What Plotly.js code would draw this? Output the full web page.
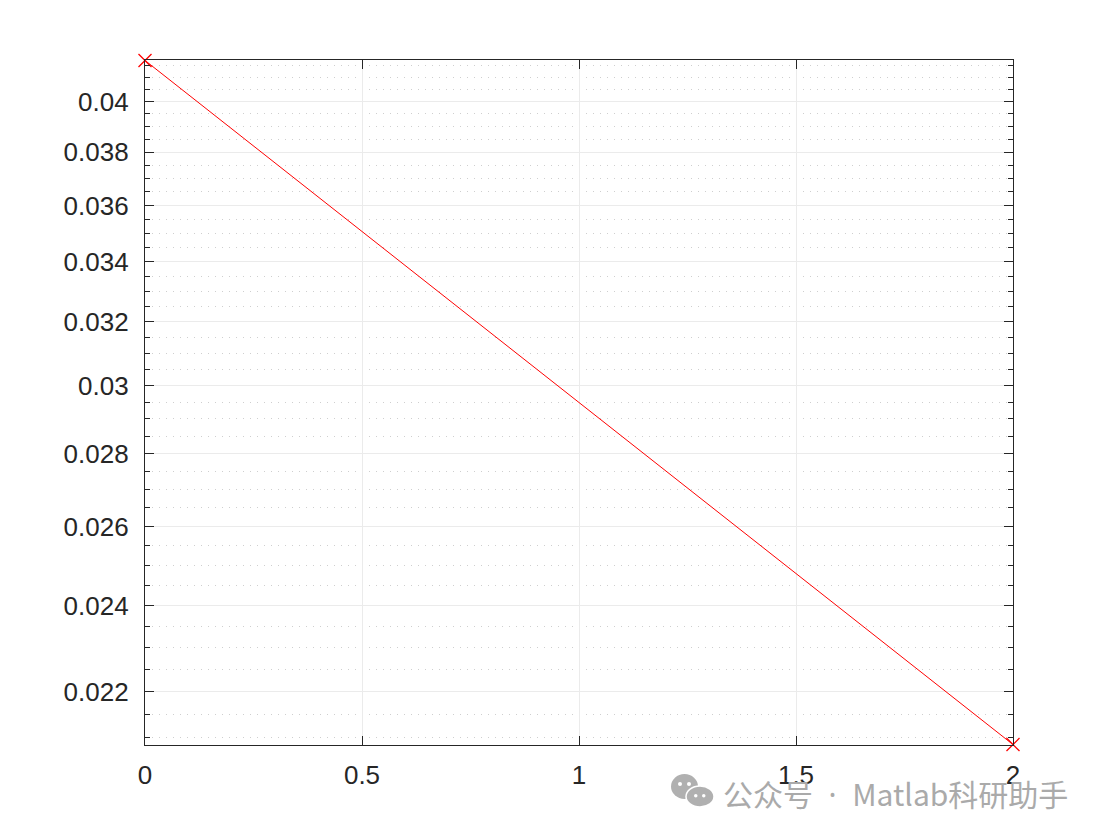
<!DOCTYPE html>
<html>
<head>
<meta charset="utf-8">
<script src="https://cdn.plot.ly/plotly-3.0.1.min.js"></script>
<style>html,body{margin:0;padding:0;background:#fff;}#chart{width:1111px;height:835px;}</style>
</head>
<body>
<div id="chart"></div>
<script>
// Data
const xValues = [0, 2];
const yValues = [0.0417, 0.02085];

// Ticks
const xTickVals = [0, 0.5, 1, 1.5, 2];
const xTickText = ['0', '0.5', '1', '1.5', '2'];
const yTickVals = [0.022, 0.024, 0.026, 0.028, 0.03, 0.032, 0.034, 0.036, 0.038, 0.04];
const yTickText = ['0.022', '0.024', '0.026', '0.028', '0.03', '0.032', '0.034', '0.036', '0.038', '0.04'];

// minor ticks every 0.0005 (not at major positions)
const yMinorVals = [];
for (let k = 41; k <= 83; k++) {
  const v = Math.round(k * 5) / 10000;
  if (!yTickVals.some(t => Math.abs(t - v) < 1e-9)) yMinorVals.push(v);
}

const L = 145, R = 1013, T = 60, B = 745;
const px = x => (x - L) / (R - L);
const py = y => (B - y) / (B - T);

const axisFont = {family: 'Liberation Sans, Arial, sans-serif', size: 26, color: '#262626'};

// axis tight to the data (as MATLAB "axis tight")
const yMin = Math.min(...yValues), yMax = Math.max(...yValues);
const yRange = [Math.log10(yMin) - 0.0002, Math.log10(yMax) + 0.0002];

const lineTrace = {
  x: xValues, y: yValues,
  type: 'scatter', mode: 'lines',
  line: {color: '#ff0000', width: 1},
  hoverinfo: 'skip'
};
const markerTrace = {
  x: xValues, y: yValues,
  type: 'scatter', mode: 'markers',
  marker: {symbol: 'x-thin-open', size: 13, color: '#ff0000', line: {width: 1.3}},
  cliponaxis: false,
  hoverinfo: 'x+y'
};

const wm = '#b0b0b0';
const layout = {
  width: 1111, height: 835,
  paper_bgcolor: '#ffffff', plot_bgcolor: '#ffffff',
  margin: {l: L, r: 1111 - R, t: T, b: 835 - B, pad: 0},
  showlegend: false,
  xaxis: {
    range: [0, 2], tickmode: 'array', tickvals: xTickVals, ticktext: xTickText,
    ticks: 'inside', ticklen: 9, tickwidth: 1.3, tickcolor: '#262626',
    showline: true, linecolor: '#262626', linewidth: 1.3, mirror: 'allticks',
    showgrid: true, gridcolor: '#ebebeb', gridwidth: 1,
    zeroline: false, tickfont: axisFont, ticklabelstandoff: 7
  },
  yaxis: {
    type: 'log', range: yRange,
    tickmode: 'array', tickvals: yTickVals, ticktext: yTickText,
    ticks: 'inside', ticklen: 9, tickwidth: 1.3, tickcolor: '#262626',
    showline: true, linecolor: '#262626', linewidth: 1.3, mirror: 'allticks',
    showgrid: true, gridcolor: '#ebebeb', gridwidth: 1,
    zeroline: false, tickfont: axisFont, ticklabelstandoff: 10,
    minor: {tickmode: 'array', tickvals: yMinorVals, ticks: 'inside', ticklen: 5, tickwidth: 1.3,
            tickcolor: '#262626', showgrid: true, gridcolor: '#cfcfcf', griddash: '1px,6px', gridwidth: 1}
  },
  shapes: [
    {type: 'circle', xref: 'paper', yref: 'paper', x0: px(671), x1: px(698), y0: py(799), y1: py(774), fillcolor: wm, line: {width: 0}},
    {type: 'circle', xref: 'paper', yref: 'paper', x0: px(686), x1: px(714), y0: py(807), y1: py(786), fillcolor: wm, line: {color: '#ffffff', width: 1.5}},
    {type: 'circle', xref: 'paper', yref: 'paper', x0: px(678), x1: px(682), y0: py(786), y1: py(782), fillcolor: '#ffffff', line: {width: 0}},
    {type: 'circle', xref: 'paper', yref: 'paper', x0: px(687), x1: px(691), y0: py(786), y1: py(782), fillcolor: '#ffffff', line: {width: 0}},
    {type: 'circle', xref: 'paper', yref: 'paper', x0: px(694), x1: px(697.5), y0: py(797.5), y1: py(794), fillcolor: '#ffffff', line: {width: 0}},
    {type: 'circle', xref: 'paper', yref: 'paper', x0: px(702), x1: px(705.5), y0: py(797.5), y1: py(794), fillcolor: '#ffffff', line: {width: 0}}
  ],
  annotations: [{
    xref: 'paper', yref: 'paper', x: px(721), y: py(793), xanchor: 'left', yanchor: 'middle',
    text: '公众号<span style="font-family:Noto Sans">  ·  </span>Matlab科研助手', showarrow: false,
    font: {family: 'Noto Sans CJK SC, Noto Sans, sans-serif', size: 30, color: '#aaaaaa'}
  }]
};

Plotly.newPlot('chart', [lineTrace, markerTrace], layout, {displayModeBar: false});
</script>
</body>
</html>
